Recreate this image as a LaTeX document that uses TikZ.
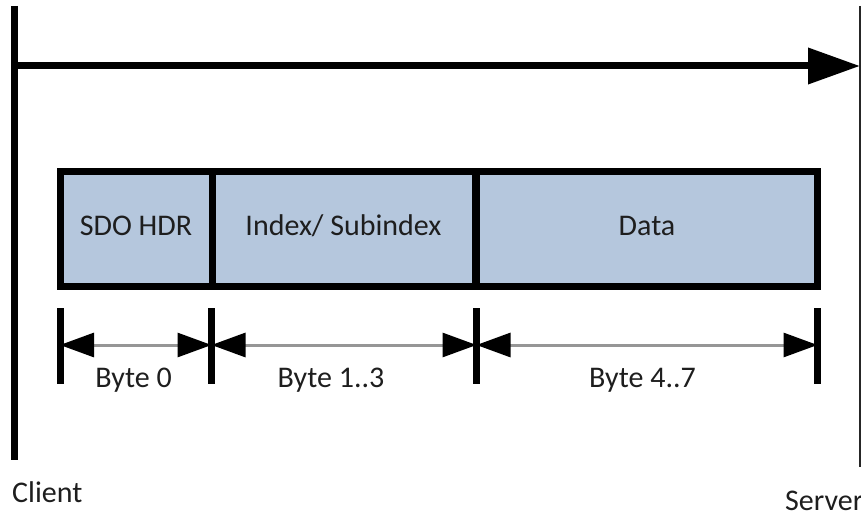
\documentclass[tikz,border=0pt]{standalone}
\usepackage{fontspec}
\setmainfont{Carlito}
\usetikzlibrary{arrows.meta}
\definecolor{cellfill}{RGB}{181,199,221}
\definecolor{dimgray}{RGB}{150,150,150}
\definecolor{labelink}{RGB}{30,30,30}
\tikzset{
  lbl/.style={font=\fontsize{30}{36}\selectfont, text=labelink, inner sep=0pt},
  cell/.style={draw=black, line width=7pt, fill=cellfill, minimum height=114pt,
    inner sep=0pt, text height=20pt, text depth=8pt, lbl},
  tick/.style={line width=7pt, black},
  dimline/.style={draw=dimgray, line width=3pt,
    {Triangle[length=34pt,width=24pt,black]}-{Triangle[length=34pt,width=24pt,black]}},
  lifeline/.style={line width=7pt, black},
}
\begin{document}
\begin{tikzpicture}[x=1pt, y=-1pt]
  \useasboundingbox (0,0) rectangle (861,513);

  % client and server lifelines
  \coordinate (clTop) at (14,6);
  \coordinate (clBot) at (14,460);
  \coordinate (svTop) at (859.5,6);
  \coordinate (svBot) at (859.5,467);
  \coordinate (msgStart) at (14,66);
  \coordinate (msgEnd) at (860,66);
  \draw[lifeline] (clTop) -- (clBot);
  \draw[line width=2pt, black!85] (svTop) -- (svBot);
  \draw[line width=7pt, -{Triangle[length=52pt,width=35pt]}] (msgStart) -- (msgEnd);

  % frame fields
  \node[cell, minimum width=152pt] (hdr)  at (136,229)   {SDO HDR};
  \node[cell, minimum width=263pt] (idx)  at (343.5,229) {Index/ Subindex};
  \node[cell, minimum width=341pt] (data) at (647,229)   {Data};

  % dimension ticks
  \foreach \n/\x in {t0/60, t1/211.5, t2/476.5, t3/817.5} {
    \coordinate (\n top) at (\x,308);
    \coordinate (\n bot) at (\x,384);
    \coordinate (\n) at (\x,345);
    \draw[tick] (\n top) -- (\n bot);
  }
  \draw[dimline] (t0) -- (t1);
  \draw[dimline] (t1) -- (t2);
  \draw[dimline] (t2) -- (t3);

  % byte ranges
  \node[lbl, anchor=base] (b0) at (133.5,387) {Byte 0};
  \node[lbl, anchor=base] (b1) at (331,387) {Byte 1..3};
  \node[lbl, anchor=base] (b2) at (642.5,387) {Byte 4..7};

  % endpoint names
  \node[lbl, anchor=base west] (client) at (12,502) {Client};
  \node[lbl, anchor=base west] (server) at (785,510) {Server};
\end{tikzpicture}
\end{document}
